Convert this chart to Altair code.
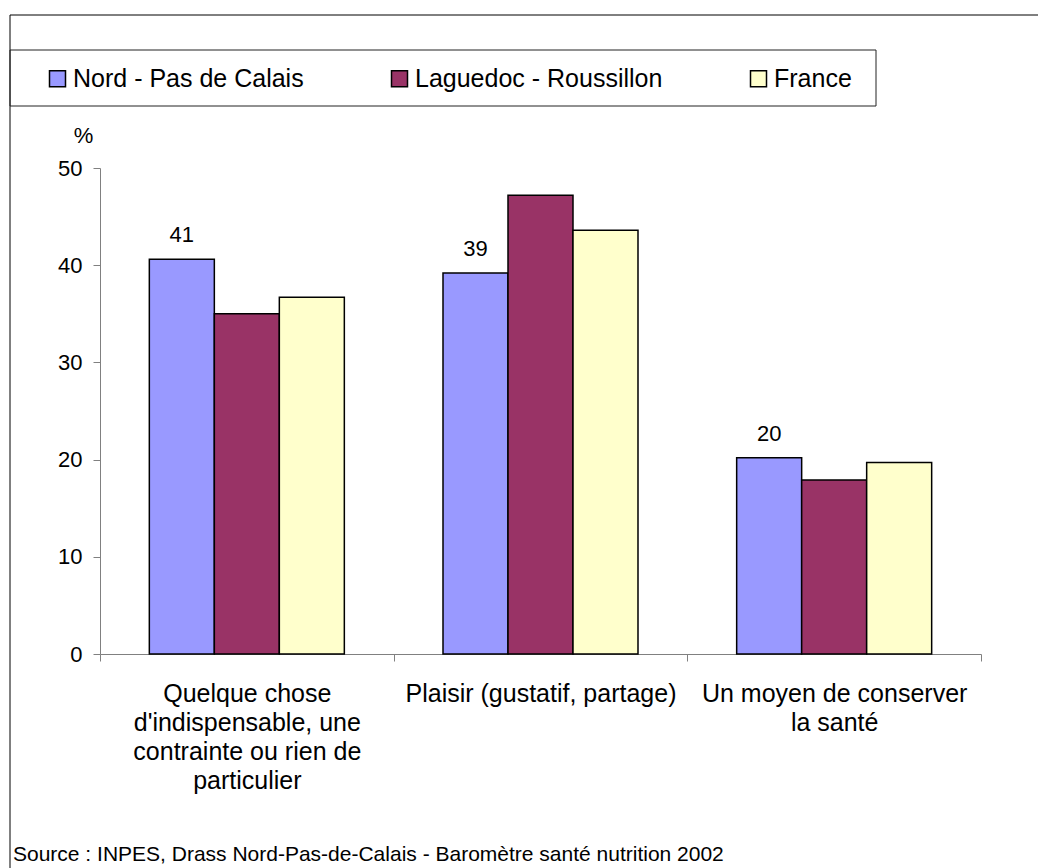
import altair as alt
import pandas as pd

# ---- data ----
categories = [
    "Quelque chose|d'indispensable, une|contrainte ou rien de|particulier",
    "Plaisir (gustatif, partage)",
    "Un moyen de conserver|la santé",
]
series = ["Nord - Pas de Calais", "Laguedoc - Roussillon", "France"]
nord_pdc = [40.6, 39.2, 20.2]
languedoc = [35.0, 47.2, 17.9]
france = [36.7, 43.6, 19.7]
colors = ["#9999FF", "#993366", "#FFFFCC"]
y_ticks = [0, 10, 20, 30, 40, 50]
source_text = "Source : INPES, Drass Nord-Pas-de-Calais - Baromètre santé nutrition 2002"

rows = []
for s, vals in zip(series, [nord_pdc, languedoc, france]):
    for c, v in zip(categories, vals):
        rows.append({"cat": c, "series": s, "value": v})
df = pd.DataFrame(rows)
one = pd.DataFrame({"k": [0]})

FONT = "Liberation Sans"
W, H = 881, 486

x_enc = alt.X(
    "cat:N",
    sort=categories,
    scale=alt.Scale(domain=categories, paddingInner=0, paddingOuter=0),
    axis=alt.Axis(
        title=None,
        labelExpr="split(datum.label, '|')",
        labelAngle=0,
        labelFontSize=25,
        labelLineHeight=29,
        labelBaseline="top",
        labelPadding=20,
        labelLimit=500,
        labelColor="black",
        tickSize=7,
        tickBand="extent",
        domainColor="#808080",
        tickColor="#808080",
    ),
)
xoff_enc = alt.XOffset(
    "series:N",
    sort=series,
    scale=alt.Scale(domain=series, paddingInner=0, paddingOuter=0.759),
)
y_enc = alt.Y(
    "value:Q",
    scale=alt.Scale(domain=[0, 50]),
    axis=alt.Axis(
        values=y_ticks,
        title="%",
        titleAngle=0,
        titleX=-17,
        titleY=-26,
        titleAlign="center",
        titleBaseline="alphabetic",
        titleFontSize=22,
        titleFontWeight="normal",
        titleColor="black",
        grid=False,
        tickSize=7,
        labelPadding=11,
        labelFontSize=22,
        labelColor="black",
        domainColor="#808080",
        tickColor="#808080",
    ),
)

frame = alt.Chart(one).mark_rect(
    fill="white", fillOpacity=0, stroke="black", strokeWidth=1
).encode(
    x=alt.value(-90), x2=alt.value(1100), y=alt.value(-153), y2=alt.value(900)
)

legend_box = alt.Chart(one).mark_rect(
    fill="white", fillOpacity=0, stroke="#222222", strokeWidth=1
).encode(
    x=alt.value(-90), x2=alt.value(776), y=alt.value(-118), y2=alt.value(-62)
)

bars = alt.Chart(df).mark_bar(stroke="black", strokeWidth=1.5).encode(
    x=x_enc,
    xOffset=xoff_enc,
    y=y_enc,
    color=alt.Color(
        "series:N",
        sort=series,
        scale=alt.Scale(domain=series, range=colors),
        legend=alt.Legend(
            title=None,
            orient="none",
            legendX=-55,
            legendY=-102,
            direction="horizontal",
            columns=3,
            symbolType="square",
            symbolSize=256,
            symbolStrokeColor="black",
            symbolStrokeWidth=1.5,
            symbolOpacity=1,
            labelFontSize=25,
            labelColor="black",
            labelOffset=3,
            labelLimit=500,
            columnPadding=83,
            padding=0,
        ),
    ),
)

labels = alt.Chart(df).transform_filter(
    alt.datum.series == series[0]
).mark_text(
    dy=-17, baseline="alphabetic", fontSize=22, color="black"
).encode(
    x=alt.X("cat:N", sort=categories),
    xOffset=alt.XOffset("series:N", sort=series),
    y=alt.Y("value:Q"),
    text=alt.Text("value:Q", format=".0f"),
)

source = alt.Chart(one).mark_text(
    align="left", baseline="alphabetic", fontSize=21, color="black"
).encode(
    x=alt.value(-87), y=alt.value(693), text=alt.value(source_text)
)

chart = alt.layer(frame, legend_box, bars, labels, source).properties(
    width=W,
    height=H,
    autosize=alt.AutoSizeParams(type="none"),
    padding={"left": 92, "top": 160, "right": 57, "bottom": 214},
).configure(font=FONT).configure_view(stroke=None)

chart.save("out.html", embed_options={"renderer": "svg", "actions": False})
